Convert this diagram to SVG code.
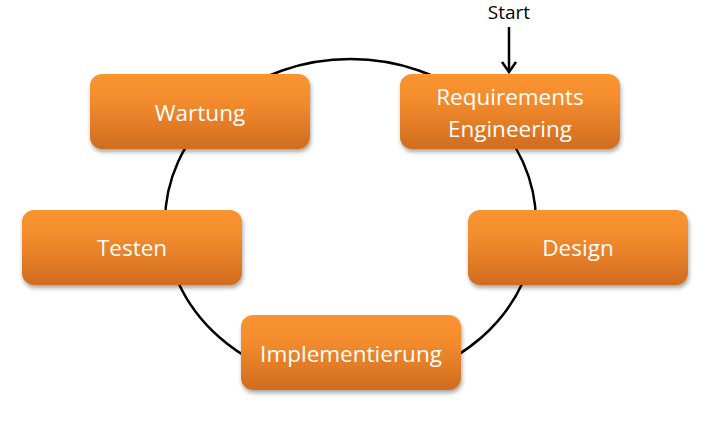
<svg xmlns="http://www.w3.org/2000/svg" width="721" height="423" viewBox="0 0 721 423">
<defs>
<linearGradient id="og" x1="0" y1="0" x2="0" y2="1">
<stop offset="0" stop-color="#FA9430"/>
<stop offset="0.35" stop-color="#F48C2E"/>
<stop offset="1" stop-color="#D06C1F"/>
</linearGradient>
<filter id="sh" x="-10%" y="-10%" width="120%" height="130%">
<feGaussianBlur in="SourceAlpha" stdDeviation="2"/>
<feOffset dx="1" dy="3" result="b"/>
<feComponentTransfer><feFuncA type="linear" slope="0.35"/></feComponentTransfer>
<feMerge><feMergeNode/><feMergeNode in="SourceGraphic"/></feMerge>
</filter>
</defs>
<style>
.box{fill:url(#og);filter:url(#sh)}
.lbl{font-family:"Open Sans","Noto Sans",sans-serif;font-size:22.5px;fill:#ffffff;text-anchor:middle}
.conn{fill:none;stroke:#000;stroke-width:2.5}
</style>
<g id="connectors">
<ellipse class="conn" cx="350.5" cy="222" rx="185.5" ry="163"/>
<line class="conn" x1="509" y1="27" x2="509" y2="71"/>
<polyline class="conn" points="502,62 509,72 516,62" stroke-linejoin="miter"/>
</g>
<text x="509" y="19" font-family="Open Sans, Noto Sans, sans-serif" font-size="19" fill="#000" text-anchor="middle">Start</text>
<g id="requirements">
<rect class="box" x="400" y="74" width="220" height="75" rx="12"/>
<text class="lbl" x="510" y="105">Requirements</text>
<text class="lbl" x="510" y="137">Engineering</text>
</g>
<g id="design">
<rect class="box" x="468" y="210" width="220" height="75" rx="12"/>
<text class="lbl" x="578" y="256">Design</text>
</g>
<g id="implementierung">
<rect class="box" x="241" y="315" width="220" height="75" rx="12"/>
<text class="lbl" x="351" y="362">Implementierung</text>
</g>
<g id="testen">
<rect class="box" x="22" y="210" width="220" height="75" rx="12"/>
<text class="lbl" x="132" y="256">Testen</text>
</g>
<g id="wartung">
<rect class="box" x="90" y="74" width="220" height="75" rx="12"/>
<text class="lbl" x="200" y="121">Wartung</text>
</g>
</svg>
